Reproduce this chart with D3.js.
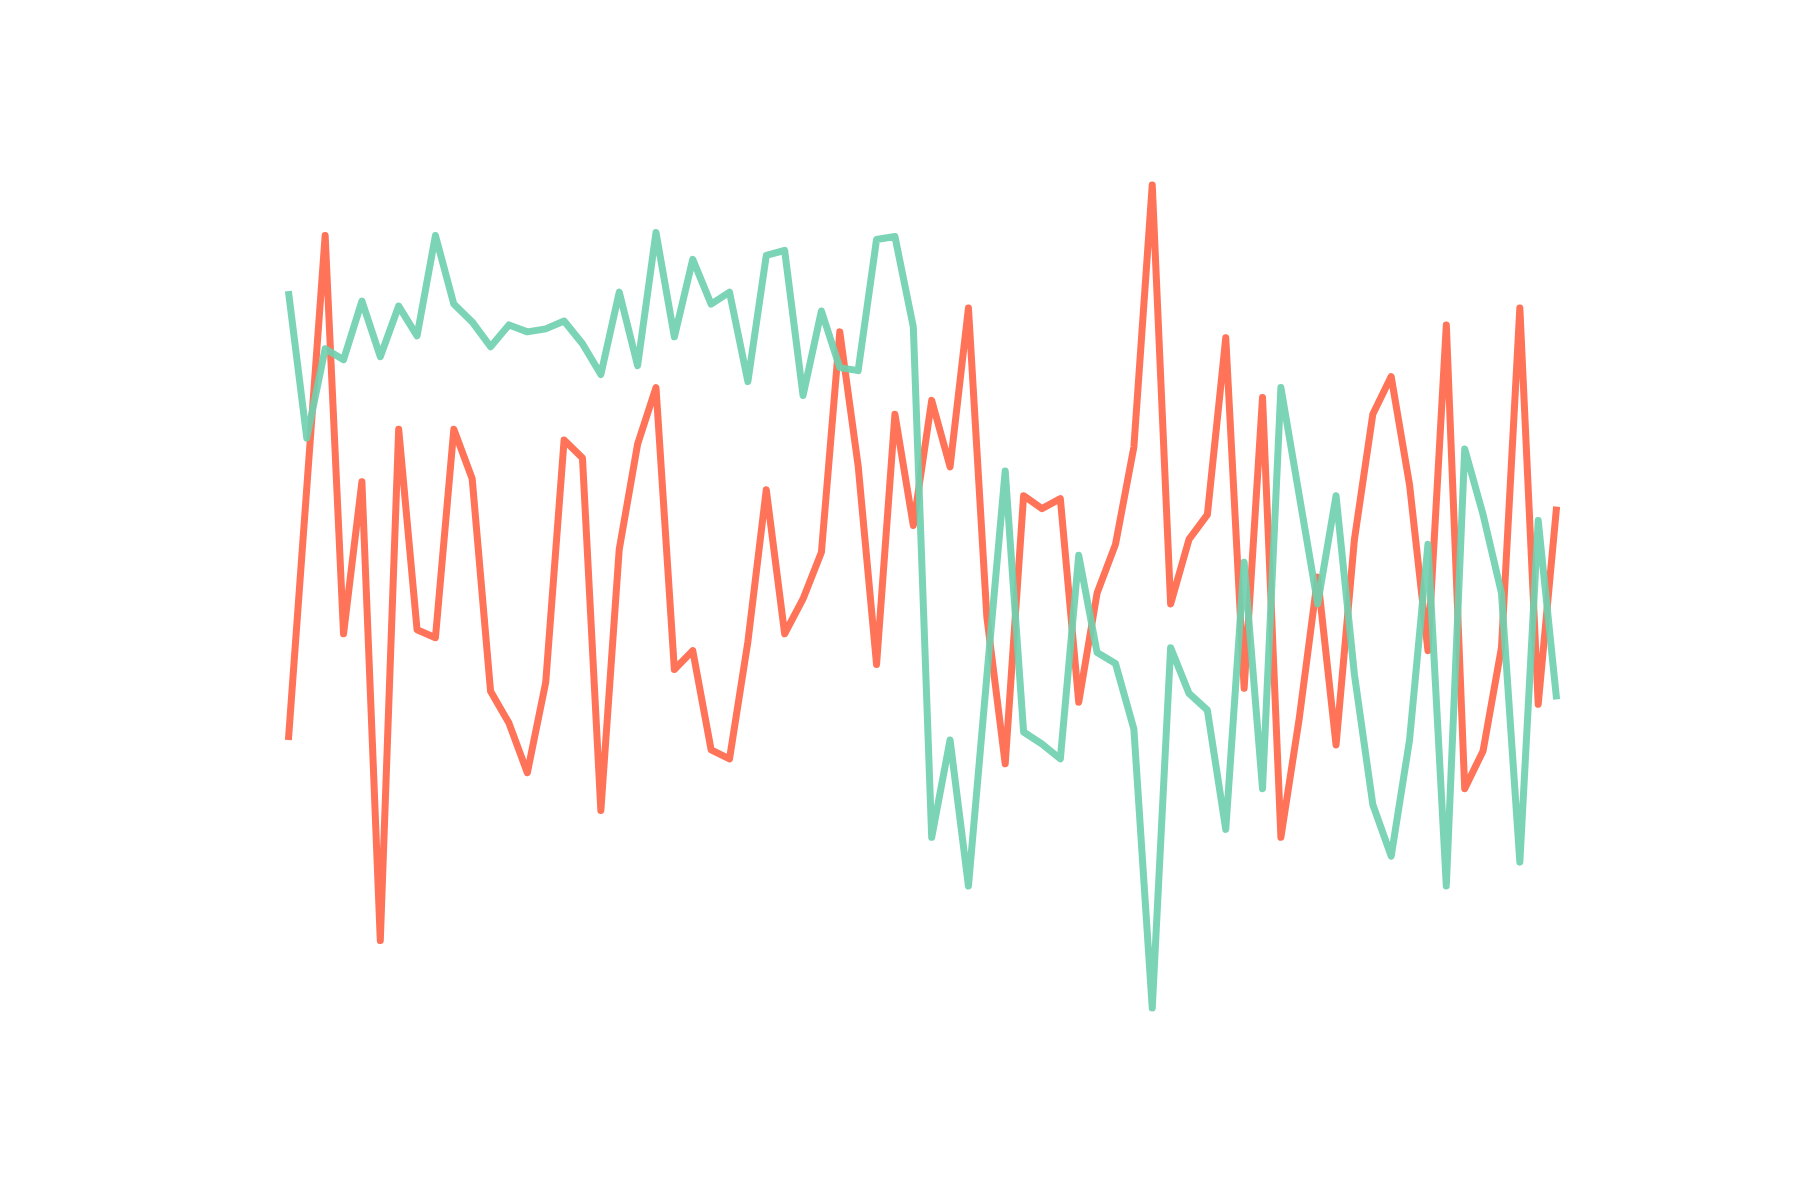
<!DOCTYPE html>
<html>
<head>
<meta charset="utf-8">
<script src="https://cdn.jsdelivr.net/npm/d3@7"></script>
<style>
  body { margin: 0; background: #fff; }
</style>
</head>
<body>
<div id="chart"></div>
<script>
// values, 70 steps each
const redSeries = [
  -1.44, 1.10, 3.64, -0.37, 1.16, -3.46, 1.69, -0.33, -0.41, 1.69,
  1.19, -0.95, -1.27, -1.77, -0.86, 1.58, 1.40, -2.15, 0.48, 1.54,
  2.11, -0.73, -0.54, -1.54, -1.63, -0.45, 1.08, -0.37, -0.02, 0.45,
  2.67, 1.32, -0.68, 1.84, 0.72, 1.98, 1.31, 2.91, -0.20, -1.68,
  1.02, 0.89, 0.99, -1.06, 0.04, 0.53, 1.51, 4.15, -0.07, 0.58,
  0.83, 2.61, -0.92, 2.01, -2.42, -1.22, 0.20, -1.49, 0.58, 1.84,
  2.22, 1.13, -0.54, 2.74, -1.93, -1.55, -0.51, 2.91, -1.08, 0.91
];
const greenSeries = [
  3.08, 1.60, 2.50, 2.39, 2.98, 2.42, 2.93, 2.63, 3.64, 2.95,
  2.77, 2.52, 2.74, 2.67, 2.70, 2.78, 2.55, 2.24, 3.07, 2.33,
  3.67, 2.62, 3.40, 2.95, 3.07, 2.17, 3.44, 3.49, 2.03, 2.88,
  2.31, 2.28, 3.60, 3.63, 2.72, -2.42, -1.44, -2.91, -0.80, 1.27,
  -1.36, -1.48, -1.63, 0.42, -0.56, -0.67, -1.33, -4.14, -0.51, -0.97,
  -1.14, -2.34, 0.35, -1.93, 2.11, 1.02, -0.07, 1.02, -0.78, -2.09,
  -2.61, -1.44, 0.53, -2.91, 1.49, 0.83, 0.04, -2.67, 0.77, -1.03
];
const seriesColors = ["#ff7358", "#6fd0af"];

const width = 1800, height = 1200;
const svg = d3.select("#chart")
  .append("svg")
  .attr("width", width)
  .attr("height", height);

const steps = d3.range(redSeries.length);

// plot area like a matplotlib axes with 5% margins, axes hidden
const x = d3.scaleLinear()
  .domain([0, steps.length - 1])
  .range([288.4, 1556.6]);
const y = d3.scaleLinear()
  .domain([-4, 4])
  .range([994.2, 199.8]);

const line = d3.line()
  .x((d, i) => x(i))
  .y(d => y(d));

svg.selectAll(".series")
  .data([redSeries, greenSeries])
  .enter()
  .append("path")
  .attr("class", "series")
  .attr("d", d => line(d))
  .style("fill", "none")
  .style("stroke", (d, i) => seriesColors[i])
  .style("stroke-opacity", (d, i) => i === 1 ? 0.92 : 1)
  .style("stroke-width", 7)
  .style("stroke-linejoin", "round")
  .style("stroke-linecap", "butt");
</script>
</body>
</html>
